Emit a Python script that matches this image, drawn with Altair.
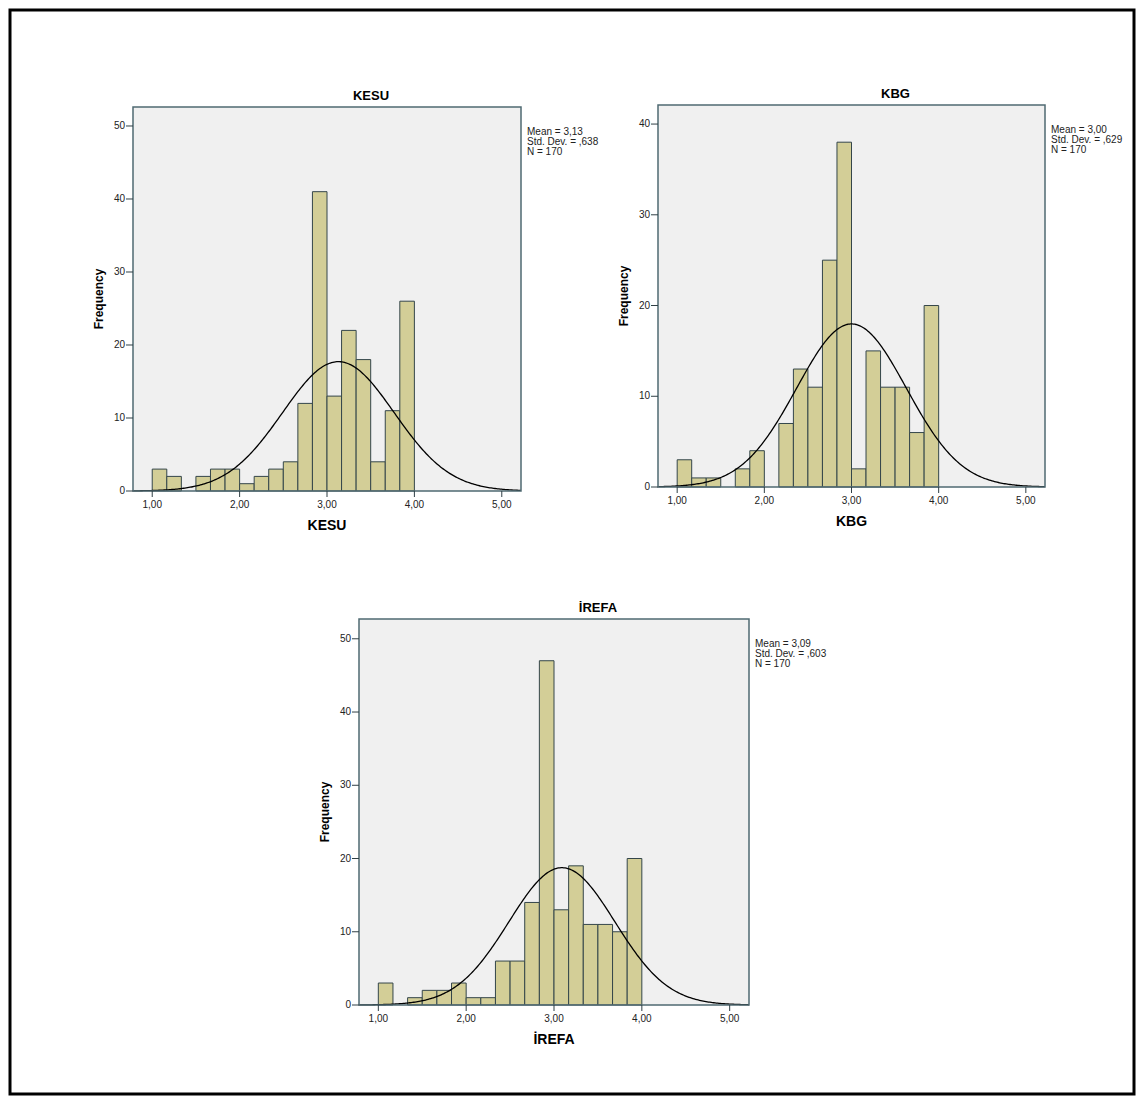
import altair as alt
import pandas as pd
import numpy as np

FONT = "Liberation Sans"

# ---- data ----
names = ["KESU", "KBG", "İREFA"]
means = [3.13, 3.00, 3.09]
sds = [0.638, 0.629, 0.603]
ns = [170, 170, 170]
mean_labels = ["3,13", "3,00", "3,09"]
sd_labels = [",638", ",629", ",603"]

bin_width = 1 / 6
bin_starts = [1 + i / 6 for i in range(18)]

kesu_counts = [3, 2, 0, 2, 3, 3, 1, 2, 3, 4, 12, 41, 13, 22, 18, 4, 11, 26]
kbg_counts = [3, 1, 1, 0, 2, 4, 0, 7, 13, 11, 25, 38, 2, 15, 11, 11, 6, 20]
irefa_counts = [3, 0, 1, 2, 2, 3, 1, 1, 6, 6, 14, 47, 13, 19, 11, 11, 10, 20]
counts = [kesu_counts, kbg_counts, irefa_counts]

x_ticks = [1, 2, 3, 4, 5]
x_tick_labels = ["1,00", "2,00", "3,00", "4,00", "5,00"]
y_ticks = [[0, 10, 20, 30, 40, 50], [0, 10, 20, 30, 40], [0, 10, 20, 30, 40, 50]]
x_domain = [0.78, 5.22]
y_max = [52.6, 42.1, 52.7]

# ---- layout (pixels inside the framed view) ----
W, H = 1124, 1084
panels_px = [(123, 511, 97, 481), (648, 1035, 95, 477), (349, 739, 609, 995)]

BAR_FILL = "#d3ce97"
BAR_STROKE = "#34464a"
PANEL_BG = "#f0f0f0"
PANEL_BORDER = "#4f6a72"
TICK = "#2f3f45"
LABEL = "#222222"


def panel(i):
    left, right, top, bottom = panels_px[i]
    xs = alt.Scale(domain=x_domain, range=[left, right], nice=False, zero=False)
    ys = alt.Scale(domain=[0, y_max[i]], range=[bottom, top], nice=False, zero=False)

    def X(f):
        return alt.X(f, scale=xs, axis=None)

    def Y(f):
        return alt.Y(f, scale=ys, axis=None)

    def XD(v):
        return alt.XDatum(v, scale=xs, axis=None)

    def YD(v):
        return alt.YDatum(v, scale=ys, axis=None)

    one = pd.DataFrame({"a": [0]})

    bars_df = pd.DataFrame({
        "x0": bin_starts,
        "x1": [b + bin_width for b in bin_starts],
        "count": counts[i],
        "zero": [0] * len(bin_starts),
    })
    bars_df = bars_df[bars_df["count"] > 0]

    gx = np.linspace(x_domain[0], x_domain[1], 300)
    dens = ns[i] * bin_width * np.exp(-0.5 * ((gx - means[i]) / sds[i]) ** 2) / (sds[i] * np.sqrt(2 * np.pi))
    curve_df = pd.DataFrame({"x": gx, "y": dens})

    xt_df = pd.DataFrame({"v": x_ticks, "lab": x_tick_labels})
    yt_df = pd.DataFrame({"v": y_ticks[i], "lab": [str(t) for t in y_ticks[i]]})

    bg = alt.Chart(one).mark_rect(fill=PANEL_BG).encode(
        x=XD(x_domain[0]), x2=alt.X2Datum(x_domain[1]),
        y=YD(0), y2=alt.Y2Datum(y_max[i]),
    )
    bars = alt.Chart(bars_df).mark_rect(fill=BAR_FILL, stroke=BAR_STROKE, strokeWidth=1).encode(
        x=X("x0:Q"), x2="x1:Q", y=Y("count:Q"), y2="zero:Q",
    )
    curve = alt.Chart(curve_df).mark_line(color="black", strokeWidth=1.3).encode(
        x=X("x:Q"), y=Y("y:Q"),
    )
    frame = alt.Chart(one).mark_rect(fillOpacity=0, stroke=PANEL_BORDER, strokeWidth=1.5).encode(
        x=XD(x_domain[0]), x2=alt.X2Datum(x_domain[1]),
        y=YD(0), y2=alt.Y2Datum(y_max[i]),
    )
    # x axis ticks and labels
    xtick = alt.Chart(xt_df).mark_tick(orient="vertical", size=6, thickness=1, color=TICK, yOffset=3, opacity=1).encode(
        x=X("v:Q"), y=YD(0),
    )
    xlab = alt.Chart(xt_df).mark_text(font=FONT, fontSize=10, color=LABEL, baseline="middle", dy=14).encode(
        x=X("v:Q"), y=YD(0), text="lab:N",
    )
    # y axis ticks and labels
    ytick = alt.Chart(yt_df).mark_tick(orient="horizontal", size=7, thickness=1, color=TICK, xOffset=-3.5, opacity=1).encode(
        y=Y("v:Q"), x=XD(x_domain[0]),
    )
    ylab = alt.Chart(yt_df).mark_text(font=FONT, fontSize=10, color=LABEL, align="right", baseline="middle", dx=-8).encode(
        y=Y("v:Q"), x=XD(x_domain[0]), text="lab:N",
    )
    # axis titles
    xtitle = alt.Chart(one).mark_text(font=FONT, fontSize=14, fontWeight="bold", color="black", baseline="middle", dy=35).encode(
        x=XD(3.0), y=YD(0), text=alt.value(names[i]),
    )
    ytitle = alt.Chart(one).mark_text(font=FONT, fontSize=12, fontWeight="bold", color="black", baseline="middle",
                                      align="center", angle=270, dy=-34).encode(
        x=XD(x_domain[0]), y=YD(y_max[i] / 2), text=alt.value("Frequency"),
    )
    title = alt.Chart(one).mark_text(
        font=FONT, fontSize=13, fontWeight="bold", color="black",
        baseline="alphabetic", align="center", dx=44, dy=-7.5,
    ).encode(
        x=XD(3.0), y=YD(y_max[i]), text=alt.value(names[i]),
    )
    stats = alt.Chart(one).mark_text(
        font=FONT, fontSize=10, color=LABEL, align="left", baseline="top",
        lineHeight=10, dx=6, dy=20,
    ).encode(
        x=XD(x_domain[1]), y=YD(y_max[i]),
        text=alt.value([f"Mean = {mean_labels[i]}", f"Std. Dev. = {sd_labels[i]}", f"N = {ns[i]}"]),
    )
    return alt.layer(bg, bars, curve, frame, xtick, xlab, ytick, ylab, xtitle, ytitle, title, stats)


chart = alt.layer(panel(0), panel(1), panel(2)).resolve_scale(
    x="independent", y="independent"
).properties(
    width=W, height=H, autosize=alt.AutoSizeParams(type="pad"), padding=2,
    background="white",
).configure_view(
    stroke="black", strokeWidth=3, fill="white"
)

chart.save("out.html", embed_options={"renderer": "svg", "actions": False})
